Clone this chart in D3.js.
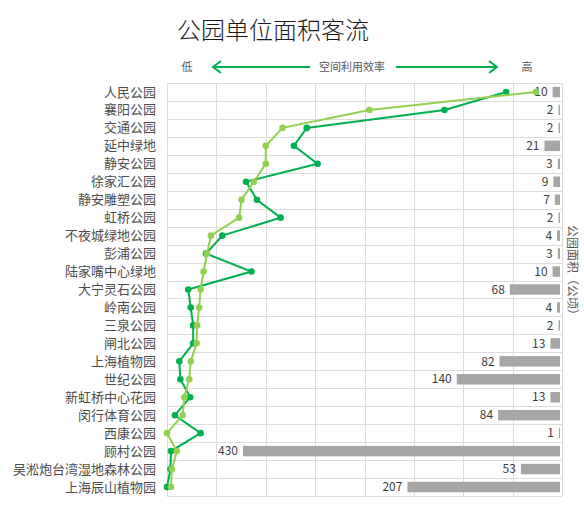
<!DOCTYPE html>
<html>
<head>
<meta charset="utf-8">
<script src="https://cdn.jsdelivr.net/npm/d3@7"></script>
<style>
  body { margin: 0; background: #fff; }
  text { font-family: "Noto Sans CJK SC", "Noto Sans", sans-serif; }
</style>
</head>
<body>
<div id="chart"></div>
<script>
// dimensions
const width = 584;
const height = 507;
const margin = { top: 83, right: 22, bottom: 11, left: 167 };

// données
const parks = ["人民公园", "襄阳公园", "交通公园", "延中绿地", "静安公园", "徐家汇公园",
  "静安雕塑公园", "虹桥公园", "不夜城绿地公园", "彭浦公园", "陆家嘴中心绿地", "大宁灵石公园",
  "岭南公园", "三泉公园", "闸北公园", "上海植物园", "世纪公园", "新虹桥中心花园",
  "闵行体育公园", "西康公园", "顾村公园", "吴淞炮台湾湿地森林公园", "上海辰山植物园"];

// aire des parcs (公顷)
const areas = [10, 2, 2, 21, 3, 9, 7, 2, 4, 3, 10, 68, 4, 2, 13, 82, 140, 13, 84, 1, 430, 53, 207];

// efficacité (série foncée / série claire)
const seriesDark = [6.87, 5.62, 2.83, 2.57, 3.05, 1.60, 1.82, 2.30, 1.12, 0.79, 1.71, 0.43,
  0.48, 0.53, 0.53, 0.25, 0.27, 0.47, 0.16, 0.68, 0.08, 0.07, 0.0];
const seriesLight = [7.47, 4.10, 2.34, 2.00, 2.00, 1.76, 1.51, 1.46, 0.89, 0.81, 0.74, 0.68,
  0.65, 0.61, 0.60, 0.48, 0.45, 0.35, 0.32, 0.0, 0.20, 0.10, 0.08];

const gridTicks = d3.range(0, 9);

const innerW = width - margin.left - margin.right;
const innerH = height - margin.top - margin.bottom;

const svg = d3.select("#chart").append("svg")
    .attr("width", width)
    .attr("height", height);

const x = d3.scaleLinear().domain([0, 8]).range([margin.left, margin.left + innerW]);
const y = d3.scaleBand().domain(parks).range([margin.top, margin.top + innerH]);
const xBar = d3.scaleLinear().domain([0, 430]).range([0, 317]);
const barRight = margin.left + innerW - 2;

// titre
svg.append("text")
    .attr("x", 177)
    .attr("y", 39)
    .attr("font-size", 24)
    .attr("font-weight", 300)
    .attr("fill", "#1a1a1a")
    .text("公园单位面积客流");

// en-tête : flèches
const green = "#00b050";
const head = svg.append("g").attr("font-size", 11).attr("fill", "#595959");
head.append("text").attr("x", 187).attr("y", 71).attr("text-anchor", "middle").text("低");
head.append("text").attr("x", 527).attr("y", 71).attr("text-anchor", "middle").text("高");
head.append("text").attr("x", 352).attr("y", 71).attr("text-anchor", "middle").text("空间利用效率");

const arrowY = 67;
svg.append("path")
    .attr("d", `M310,${arrowY}H213M221,${arrowY - 6}L213,${arrowY}L221,${arrowY + 6}`)
    .attr("fill", "none").attr("stroke", green).attr("stroke-width", 2);
svg.append("path")
    .attr("d", `M396,${arrowY}H497M489,${arrowY - 6}L497,${arrowY}L489,${arrowY + 6}`)
    .attr("fill", "none").attr("stroke", green).attr("stroke-width", 2);

// grille
const grid = svg.append("g").attr("stroke", "#dcdcdc").attr("stroke-width", 1);
grid.selectAll(".v").data(gridTicks).join("line")
    .attr("x1", d => Math.round(x(d)) + 0.5).attr("x2", d => Math.round(x(d)) + 0.5)
    .attr("y1", margin.top).attr("y2", margin.top + innerH);
grid.selectAll(".h").data(parks.concat(["__end"])).join("line")
    .attr("x1", margin.left).attr("x2", margin.left + innerW)
    .attr("y1", (d, i) => Math.round(margin.top + i * y.step()) + 0.5)
    .attr("y2", (d, i) => Math.round(margin.top + i * y.step()) + 0.5);

// étiquettes des parcs
svg.append("g").selectAll("text").data(parks).join("text")
    .attr("x", 156)
    .attr("y", d => y(d) + y.bandwidth() / 2)
    .attr("dy", "0.35em")
    .attr("text-anchor", "end")
    .attr("font-size", 13)
    .attr("fill", "#4d4d4d")
    .text(d => d);

// barres de surface
const barH = 10.5;
svg.append("g").selectAll("rect").data(areas).join("rect")
    .attr("x", d => barRight - Math.max(1, xBar(d)))
    .attr("y", (d, i) => y(parks[i]) + (y.bandwidth() - barH) / 2)
    .attr("width", d => Math.max(1, xBar(d)))
    .attr("height", barH)
    .attr("fill", "#a6a6a6");

svg.append("g").selectAll("text").data(areas).join("text")
    .attr("x", d => barRight - Math.max(1, xBar(d)) - 5)
    .attr("y", (d, i) => y(parks[i]) + y.bandwidth() / 2)
    .attr("dy", "0.35em")
    .attr("text-anchor", "end")
    .attr("font-size", 12)
    .attr("fill", "#404040")
    .text(d => d);

// titre vertical à droite
svg.append("text")
    .attr("transform", `translate(568,273) rotate(90)`)
    .attr("text-anchor", "middle")
    .attr("font-size", 12)
    .attr("fill", "#595959")
    .text("公园面积（公顷）");

// lignes
const line = d3.line()
    .x(d => x(d.v))
    .y(d => y(d.name) + y.bandwidth() / 2);

function drawSeries(values, color) {
    const pts = values.map((v, i) => ({ v, name: parks[i] }));
    svg.append("path")
        .datum(pts)
        .attr("d", line)
        .attr("fill", "none")
        .attr("stroke", color)
        .attr("stroke-width", 2);
    svg.append("g").selectAll("circle").data(pts).join("circle")
        .attr("cx", d => x(d.v))
        .attr("cy", d => y(d.name) + y.bandwidth() / 2)
        .attr("r", 3.3)
        .attr("fill", color);
}

drawSeries(seriesDark, "#00b050");
drawSeries(seriesLight, "#92d050");
</script>
</body>
</html>
